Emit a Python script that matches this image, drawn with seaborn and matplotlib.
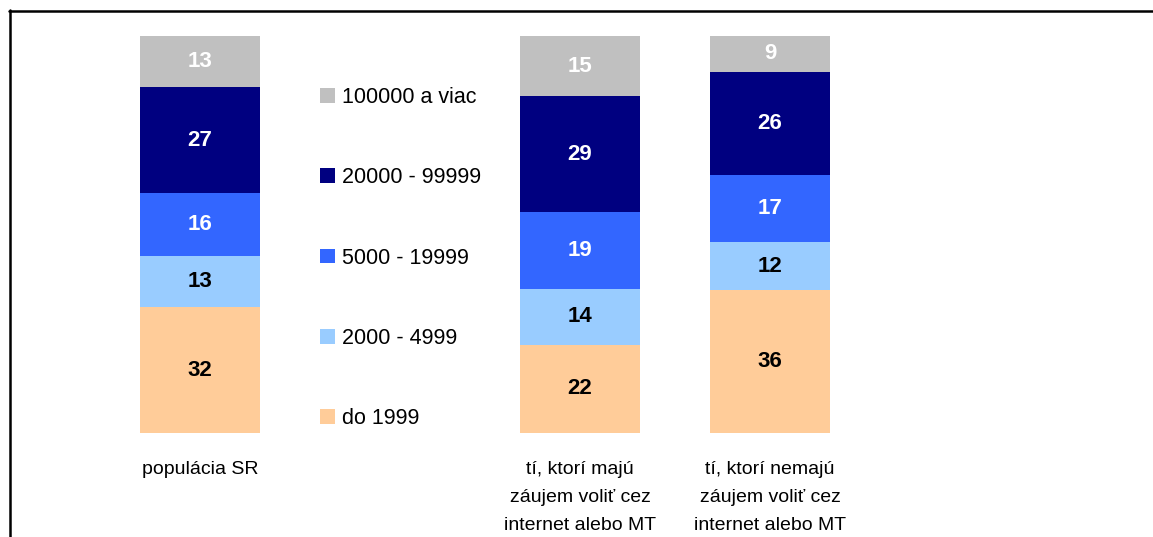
import numpy as np
import pandas as pd
import matplotlib
matplotlib.use("Agg")
import matplotlib.pyplot as plt
from matplotlib.lines import Line2D
from matplotlib.patches import Patch
import seaborn as sns

sns.set_style("white")
plt.rcParams['font.family'] = ['Liberation Sans', 'DejaVu Sans']
plt.rcParams['text.color'] = 'black'
plt.rcParams['xtick.color'] = 'black'

# ============================================
# Data
# ============================================

groups = ['populácia SR',
          'tí, ktorí majú\nzáujem voliť cez\ninternet alebo MT',
          'tí, ktorí nemajú\nzáujem voliť cez\ninternet alebo MT']

# size of municipality, bottom to top
levels = ['do 1999', '2000 - 4999', '5000 - 19999', '20000 - 99999', '100000 a viac']

do_1999 = [32, 22, 36]
od_2000 = [13, 14, 12]
od_5000 = [16, 19, 17]
od_20000 = [27, 29, 26]
od_100000 = [13, 15, 9]

colors = ['#FFCC99', '#99CCFF', '#3366FF', '#000080', '#C0C0C0']
text_colors = ['black', 'black', 'white', 'white', 'white']

# empty slot between the first bar and the others holds the legend
order = [groups[0], ' ', groups[1], groups[2]]

values = np.array([do_1999, od_2000, od_5000, od_20000, od_100000], dtype=float)
share = values / values.sum(axis=0) * 100
cum = share.cumsum(axis=0)

df = pd.DataFrame({'skupina': groups})
for i, lev in enumerate(levels):
    df[lev] = cum[i]

# ============================================
# Plot
# ============================================

W, H = 1153, 537
fig = plt.figure(figsize=(W / 100, H / 100), dpi=100)
ax = fig.add_axes([105 / W, (H - 433) / H, 760 / W, 397 / H])

# stacked bars: draw cumulative totals from the top level down
for i in reversed(range(len(levels))):
    sns.barplot(data=df, x='skupina', y=levels[i], order=order,
                color=colors[i], saturation=1, width=0.63,
                linewidth=0, ax=ax)

for j, g in enumerate(groups):
    xpos = order.index(g)
    for i in range(len(levels)):
        ax.text(xpos, cum[i, j] - share[i, j] / 2, f'{int(values[i, j])}',
                ha='center', va='center', fontsize=16, fontweight='bold',
                color=text_colors[i])

ax.set_ylim(0, 100)
ax.set_xlim(-0.5, 3.5)
ax.set_xlabel('')
ax.set_ylabel('')
ax.set_yticks([])
ax.tick_params(axis='x', length=0, pad=20, labelsize=14)
for lab in ax.get_xticklabels():
    lab.set_linespacing(1.85)
for s in ax.spines.values():
    s.set_visible(False)

# legend
handles = [Patch(facecolor=colors[i], edgecolor='none') for i in reversed(range(len(levels)))]
fig.legend(handles, list(reversed(levels)), loc='center left',
           bbox_to_anchor=(320 / W, 1 - 258 / H), frameon=False,
           fontsize=15.5, handlelength=0.68, handleheight=0.68,
           handletextpad=0.35, labelspacing=2.76,
           borderpad=0, borderaxespad=0)

# outer frame (top and left edges)
fig.add_artist(Line2D([9 / W, 1], [1 - 10.5 / H, 1 - 10.5 / H],
                      color='black', linewidth=1.8))
fig.add_artist(Line2D([10 / W, 10 / W], [0, 1 - 10 / H],
                      color='black', linewidth=1.8))

fig.savefig('out.png', dpi=100)
